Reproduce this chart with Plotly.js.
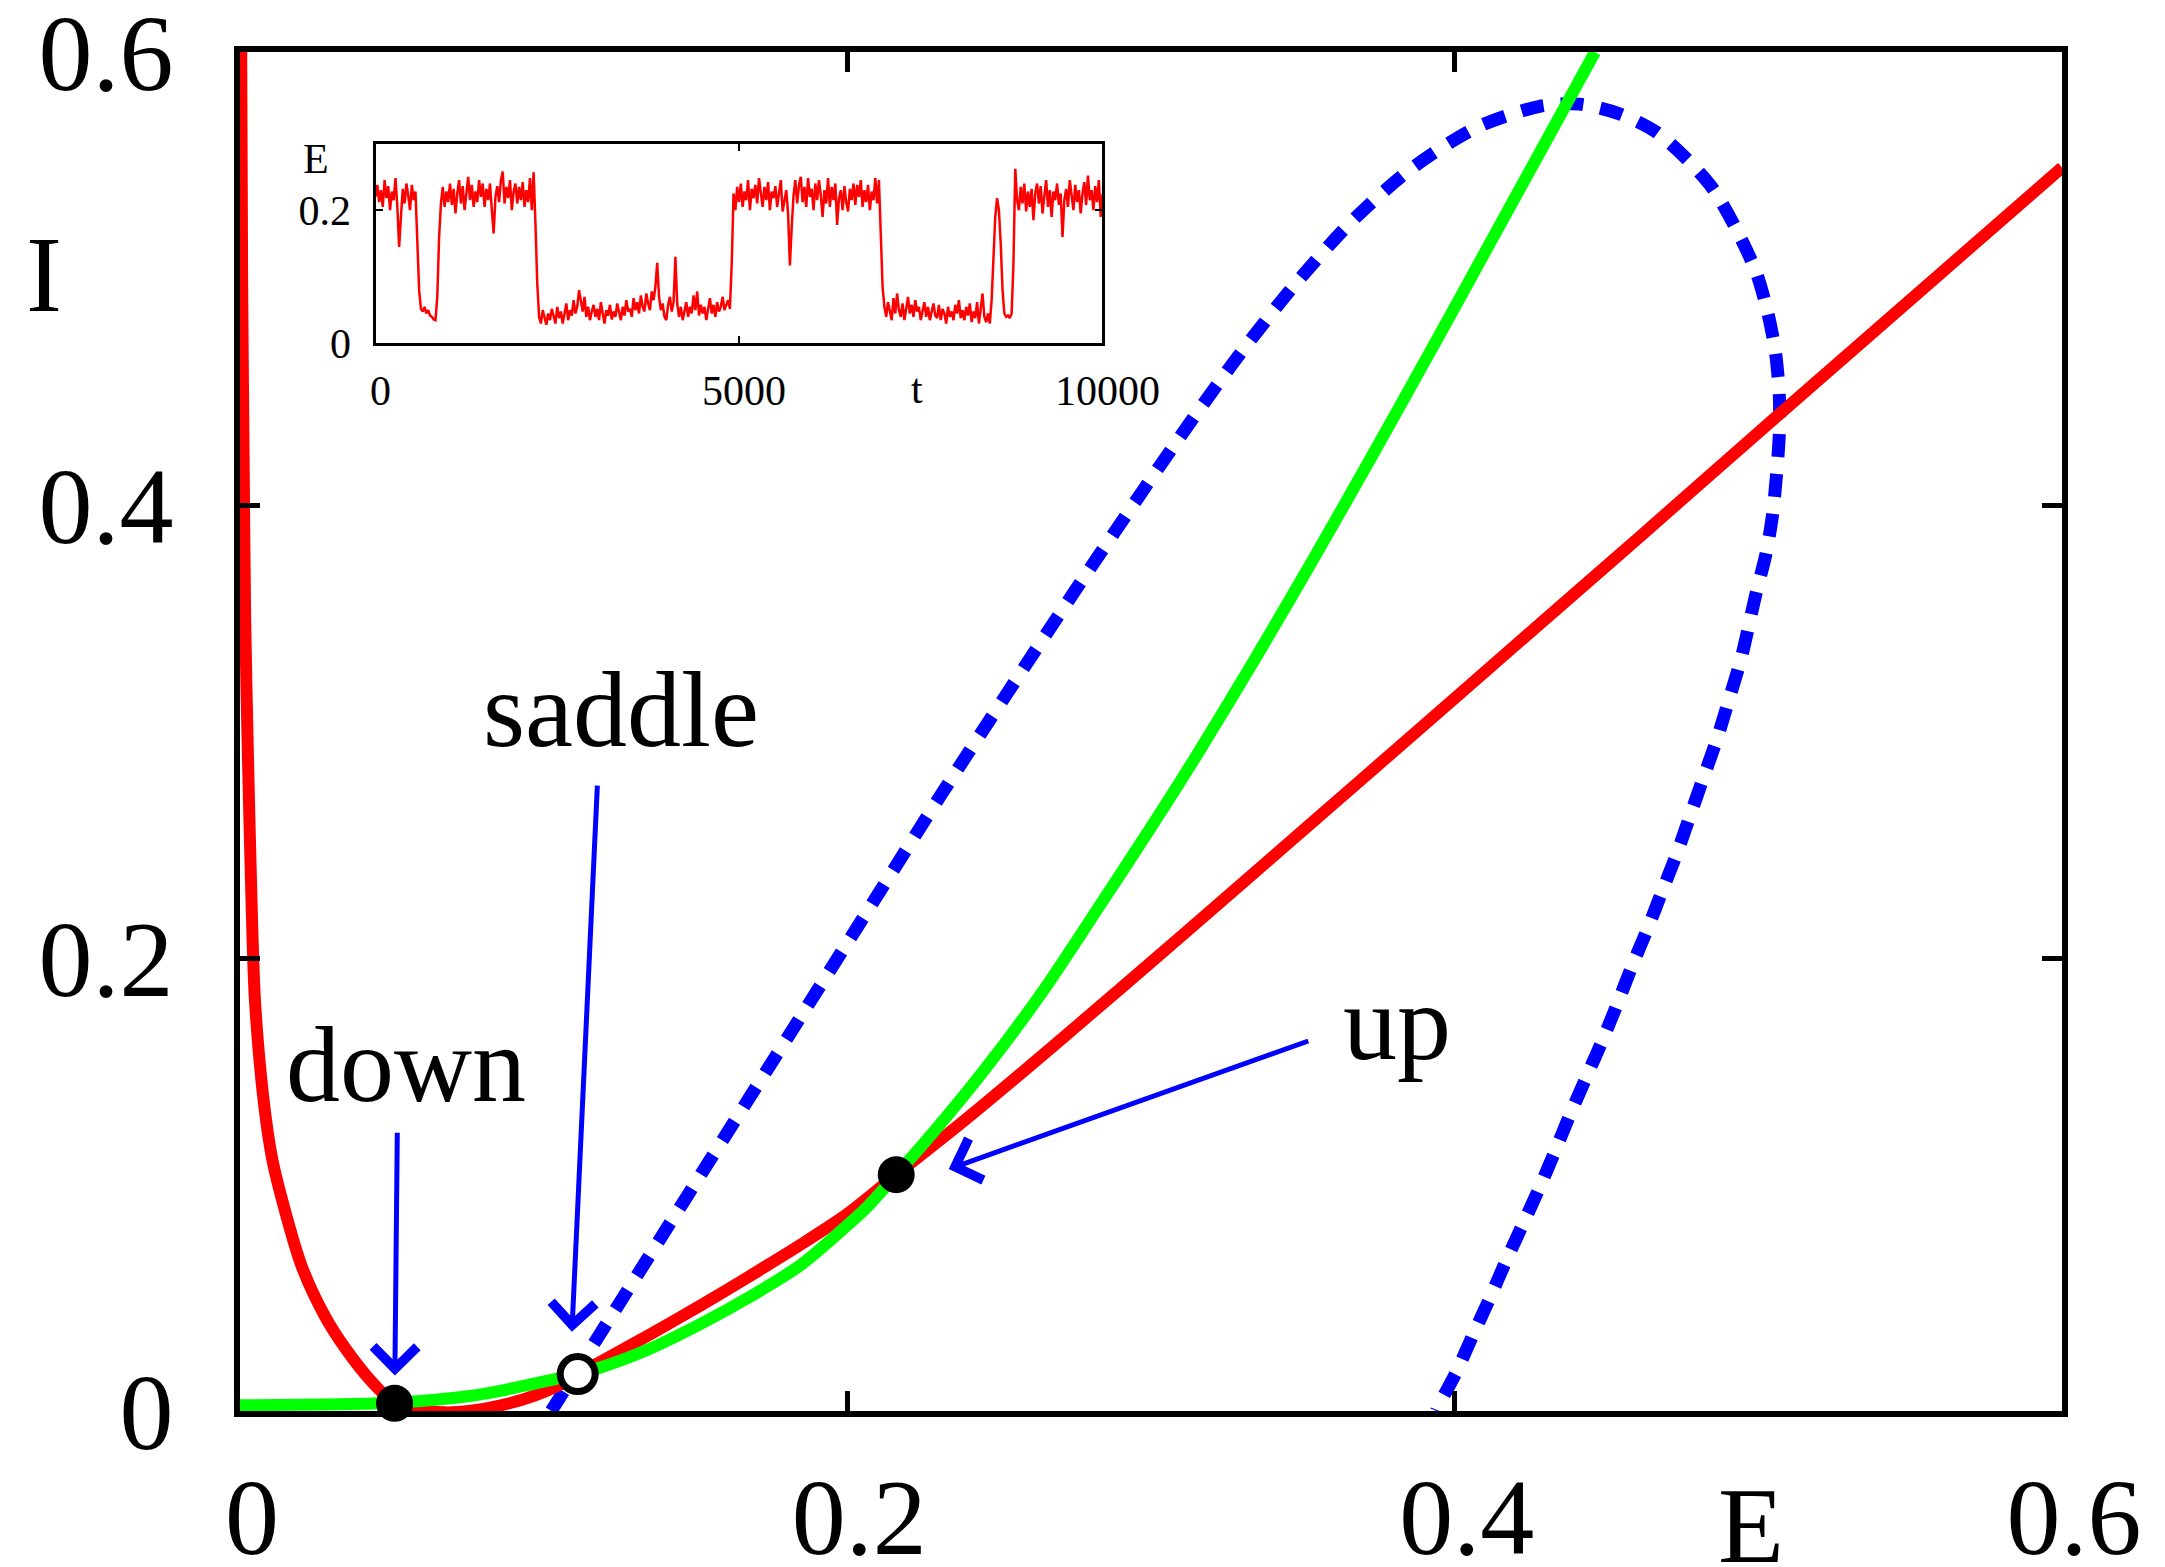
<!DOCTYPE html>
<html>
<head>
<meta charset="utf-8">
<script src="https://cdn.plot.ly/plotly-3.0.1.min.js"></script>
<style>
  html, body { margin: 0; padding: 0; background: #ffffff; }
  #phase { width: 2165px; height: 1567px; }
</style>
</head>
<body>
<div id="phase"></div>
<script>
// E-nullcline (red)
const redE = [0.0004, 0.0007, 0.0012, 0.0017, 0.0026, 0.0036, 0.0049, 0.0077, 0.0105, 0.0137,
              0.0203, 0.0279, 0.0345, 0.0433, 0.0509, 0.0580, 0.0674, 0.0760, 0.0860, 0.0970,
              0.1057, 0.1112, 0.1189, 0.1350, 0.1518, 0.1680, 0.1847, 0.2000, 0.2161, 0.2395,
              0.2679, 0.3107, 0.3556, 0.3819, 0.4214, 0.4608, 0.5058, 0.6000];
const redI = [0.600, 0.500, 0.420, 0.350, 0.290, 0.235, 0.182, 0.138, 0.112, 0.094,
              0.064, 0.042, 0.028, 0.013, 0.0034, 0.0006, -0.0006, 0.0001, 0.0025, 0.0068,
              0.0119, 0.0162, 0.0218, 0.0338, 0.0467, 0.0597, 0.0735, 0.0870, 0.1043, 0.1293,
              0.1612, 0.2105, 0.2628, 0.2935, 0.3397, 0.3858, 0.4388, 0.5490];

// I-nullcline (green)
const greenE = [0.0000, 0.0279, 0.0509, 0.0750, 0.0860, 0.1035, 0.1112, 0.1189, 0.1350, 0.1518,
                0.1680, 0.1847, 0.2000, 0.2066, 0.2161, 0.2285, 0.2449, 0.2640, 0.2833, 0.3000,
                0.3162, 0.3350, 0.3540, 0.3730, 0.3929, 0.4100, 0.4258, 0.4462];
const greenI = [0.0025, 0.0029, 0.0036, 0.0065, 0.0090, 0.0140, 0.0163, 0.0193, 0.0275, 0.0385,
                0.0505, 0.0645, 0.0820, 0.0902, 0.1043, 0.1233, 0.1502, 0.1846, 0.2235, 0.2577,
                0.2920, 0.3337, 0.3774, 0.4222, 0.4700, 0.5116, 0.5502, 0.6000];

// separatrix (blue, dashed)
const blueE = [0.1025, 0.1145, 0.1277, 0.1408, 0.1518, 0.1627, 0.1737, 0.1847, 0.2110, 0.2307,
               0.2526, 0.2740, 0.2975, 0.3134, 0.3293, 0.3463, 0.3655, 0.3852, 0.4071, 0.4280,
               0.4411, 0.4543, 0.4663, 0.4762, 0.4850, 0.4926, 0.4992, 0.5030, 0.5056, 0.5069,
               0.5069, 0.5060, 0.5047, 0.5025, 0.4992, 0.4943, 0.4904, 0.4866, 0.4822, 0.4778,
               0.4734, 0.4685, 0.4636, 0.4586, 0.4537, 0.4488, 0.4433, 0.4378, 0.4329, 0.4280,
               0.4225, 0.4170, 0.4115, 0.4060, 0.4006, 0.3951, 0.3940];
const blueI = [0.0000, 0.0254, 0.0534, 0.0812, 0.1045, 0.1276, 0.1509, 0.1742, 0.2300, 0.2717,
               0.3168, 0.3602, 0.4067, 0.4374, 0.4667, 0.4956, 0.5244, 0.5480, 0.5666, 0.5760,
               0.5770, 0.5727, 0.5647, 0.5530, 0.5397, 0.5221, 0.5031, 0.4855, 0.4678, 0.4488,
               0.4312, 0.4136, 0.3959, 0.3783, 0.3607, 0.3321, 0.3145, 0.2976, 0.2807, 0.2639,
               0.2470, 0.2301, 0.2132, 0.1971, 0.1802, 0.1641, 0.1472, 0.1303, 0.1142, 0.0988,
               0.0826, 0.0665, 0.0496, 0.0335, 0.0173, 0.0034, 0.0000];

// fixed points
const stableE = [0.0509, 0.2161];
const stableI = [0.0034, 0.1043];
const saddleE = [0.1112];
const saddleI = [0.0163];

// inset: E(t), one sample every 25 time units from t = 0 to t = 10000
const traceT0 = 0;
const traceDt = 25;
const traceE = [
  0.220,0.238,0.212,0.230,0.205,0.245,0.218,0.236,0.200,0.228,0.215,0.248,0.206,0.145,0.190,0.232,0.210,0.240,0.222,0.200,
  0.238,0.215,0.228,0.160,0.080,0.052,0.048,0.055,0.045,0.050,0.042,0.040,0.036,0.035,0.070,0.160,0.210,0.235,0.205,0.228,
  0.212,0.240,0.208,0.232,0.195,0.225,0.245,0.210,0.236,0.200,0.230,0.250,0.215,0.238,0.205,0.228,0.212,0.245,0.220,0.240,
  0.205,0.232,0.215,0.240,0.200,0.165,0.220,0.236,0.212,0.245,0.258,0.210,0.235,0.218,0.245,0.200,0.228,0.240,0.210,0.235,
  0.215,0.242,0.205,0.230,0.212,0.248,0.200,0.257,0.180,0.090,0.040,0.030,0.050,0.038,0.028,0.045,0.035,0.052,0.040,0.030,
  0.055,0.038,0.048,0.030,0.045,0.060,0.035,0.050,0.042,0.065,0.045,0.055,0.080,0.060,0.048,0.070,0.040,0.055,0.035,0.048,
  0.058,0.040,0.052,0.035,0.062,0.045,0.030,0.050,0.042,0.058,0.036,0.048,0.040,0.060,0.045,0.035,0.055,0.042,0.065,0.048,
  0.052,0.040,0.068,0.050,0.062,0.045,0.072,0.055,0.048,0.075,0.060,0.050,0.078,0.065,0.085,0.121,0.070,0.050,0.060,0.040,
  0.035,0.058,0.070,0.048,0.062,0.130,0.060,0.040,0.055,0.035,0.048,0.062,0.040,0.055,0.045,0.072,0.050,0.078,0.042,0.058,
  0.045,0.055,0.035,0.050,0.068,0.045,0.058,0.040,0.062,0.048,0.055,0.070,0.050,0.058,0.065,0.052,0.120,0.225,0.200,0.235,
  0.212,0.240,0.205,0.228,0.215,0.245,0.200,0.232,0.218,0.238,0.210,0.248,0.222,0.205,0.235,0.215,0.242,0.200,0.228,0.218,
  0.236,0.205,0.225,0.245,0.198,0.215,0.230,0.195,0.117,0.175,0.222,0.245,0.210,0.238,0.250,0.212,0.235,0.205,0.248,0.220,
  0.232,0.200,0.240,0.215,0.245,0.222,0.190,0.230,0.210,0.248,0.205,0.235,0.215,0.240,0.178,0.218,0.230,0.200,0.236,0.212,
  0.198,0.232,0.215,0.240,0.208,0.238,0.220,0.245,0.205,0.230,0.212,0.238,0.200,0.228,0.215,0.248,0.210,0.245,0.160,0.085,
  0.055,0.040,0.062,0.048,0.035,0.068,0.045,0.075,0.050,0.040,0.060,0.035,0.052,0.070,0.045,0.058,0.040,0.065,0.048,0.055,
  0.035,0.050,0.062,0.040,0.055,0.035,0.048,0.060,0.042,0.038,0.058,0.035,0.052,0.045,0.030,0.055,0.040,0.048,0.035,0.058,
  0.045,0.065,0.038,0.050,0.035,0.055,0.042,0.060,0.032,0.048,0.038,0.062,0.030,0.050,0.075,0.040,0.032,0.045,0.030,0.065,
  0.120,0.190,0.218,0.200,0.150,0.080,0.045,0.040,0.042,0.038,0.045,0.120,0.262,0.215,0.200,0.235,0.210,0.240,0.198,0.228,
  0.205,0.232,0.185,0.225,0.240,0.210,0.236,0.195,0.222,0.245,0.205,0.230,0.190,0.228,0.215,0.240,0.208,0.225,0.160,0.215,
  0.232,0.205,0.245,0.218,0.200,0.238,0.212,0.230,0.195,0.225,0.242,0.208,0.252,0.215,0.230,0.200,0.236,0.212,0.245,0.190,
  0.225
];

// tick labels
const phaseTicks = [0, 0.2, 0.4, 0.6];
const phaseTickText = ['0', '0.2', '0.4', '0.6'];
const insetTimeTicks = [0, 5000, 10000];
const insetTimeText = ['0', '5000', '10000'];
const insetETicks = [0, 0.2];
const insetEText = ['0', '0.2'];

const SERIF = 'Liberation Serif, Times New Roman, serif';

const traces = [
  { x: blueE, y: blueI, mode: 'lines', xaxis: 'x', yaxis: 'y',
    line: { color: '#0000ff', width: 13, dash: '23px,17px', shape: 'spline', smoothing: 0.8 } },
  { x: redE, y: redI, mode: 'lines', xaxis: 'x', yaxis: 'y',
    line: { color: '#ff0000', width: 12, shape: 'spline', smoothing: 0.8 } },
  { x: greenE, y: greenI, mode: 'lines', xaxis: 'x', yaxis: 'y',
    line: { color: '#00ff00', width: 12, shape: 'spline', smoothing: 0.8 } },
  { x: stableE, y: stableI, mode: 'markers', xaxis: 'x', yaxis: 'y', cliponaxis: false,
    marker: { color: '#000000', size: 37, line: { width: 0 } } },
  { x: saddleE, y: saddleI, mode: 'markers', xaxis: 'x', yaxis: 'y', cliponaxis: false,
    marker: { color: '#ffffff', size: 35, line: { color: '#000000', width: 7 } } },
  { x0: traceT0, dx: traceDt, y: traceE, mode: 'lines', xaxis: 'x2', yaxis: 'y2',
    line: { color: '#ff0000', width: 2.5 } }
];

function arrow(x, y, ax, ay) {
  return { x: x, y: y, ax: ax, ay: ay, xref: 'x', yref: 'y', axref: 'x', ayref: 'y',
           text: '', showarrow: true, arrowhead: 4, arrowsize: 1.7, arrowwidth: 5,
           arrowcolor: '#0000ff', standoff: 0 };
}
function label(text, x, y, xref, yref, size) {
  return { text: text, x: x, y: y, xref: xref, yref: yref, showarrow: false,
           xanchor: 'center', yanchor: 'middle',
           font: { family: SERIF, size: size, color: '#000000' } };
}

const frameAxis = {
  ticks: 'inside', ticklen: 20, tickwidth: 5, tickcolor: '#000000',
  showline: true, linewidth: 6, linecolor: '#000000', mirror: 'ticks',
  showgrid: false, zeroline: false, fixedrange: true, ticklabeloverflow: 'allow',
  tickfont: { family: SERIF, size: 108, color: '#000000' }
};
const insetAxis = {
  ticks: 'inside', ticklen: 7, tickwidth: 2, tickcolor: '#000000',
  showline: true, linewidth: 3, linecolor: '#000000', mirror: 'ticks',
  showgrid: false, zeroline: false, fixedrange: true, ticklabeloverflow: 'allow',
  tickfont: { family: SERIF, size: 42, color: '#000000' }
};

const layout = {
  width: 2165,
  height: 1567,
  margin: { l: 240, r: 103, t: 52, b: 156, pad: 0 },
  paper_bgcolor: '#ffffff',
  plot_bgcolor: '#ffffff',
  showlegend: false,
  xaxis: Object.assign({}, frameAxis, {
    range: [0, 0.6], tickvals: phaseTicks, ticktext: phaseTickText,
    ticklabelstandoff: 7, ticklabelshift: 12
  }),
  yaxis: Object.assign({}, frameAxis, {
    range: [0, 0.6], tickvals: phaseTicks, ticktext: phaseTickText,
    ticklabelstandoff: 39
  }),
  xaxis2: Object.assign({}, insetAxis, {
    domain: [0.07437, 0.47338], anchor: 'y2', range: [0, 10000],
    tickvals: insetTimeTicks, ticktext: insetTimeText,
    ticklabelstandoff: 8, ticklabelshift: 5
  }),
  yaxis2: Object.assign({}, insetAxis, {
    domain: [0.78551, 0.93267], anchor: 'x2', range: [0, 0.3],
    tickvals: insetETicks, ticktext: insetEText,
    ticklabelstandoff: 13
  }),
  annotations: [
    label('I', -0.10757, 0.83650, 'paper', 'paper', 108),
    label('E', 0.82931, -0.08403, 'paper', 'paper', 108),
    label('E', 0.04171, 0.92141, 'paper', 'paper', 42),
    label('t', 0.37157, 0.75202, 'paper', 'paper', 42),
    label('down', 0.0548, 0.1532, 'x', 'y', 108),
    label('saddle', 0.1254, 0.3098, 'x', 'y', 108),
    label('up', 0.3811, 0.1714, 'x', 'y', 108),
    arrow(0.0510, 0.0157, 0.0518, 0.1235),
    arrow(0.1093, 0.0350, 0.1177, 0.2768),
    arrow(0.2334, 0.1068, 0.3523, 0.1636)
  ]
};

Plotly.newPlot('phase', traces, layout, { displayModeBar: false, staticPlot: true });
</script>
</body>
</html>
